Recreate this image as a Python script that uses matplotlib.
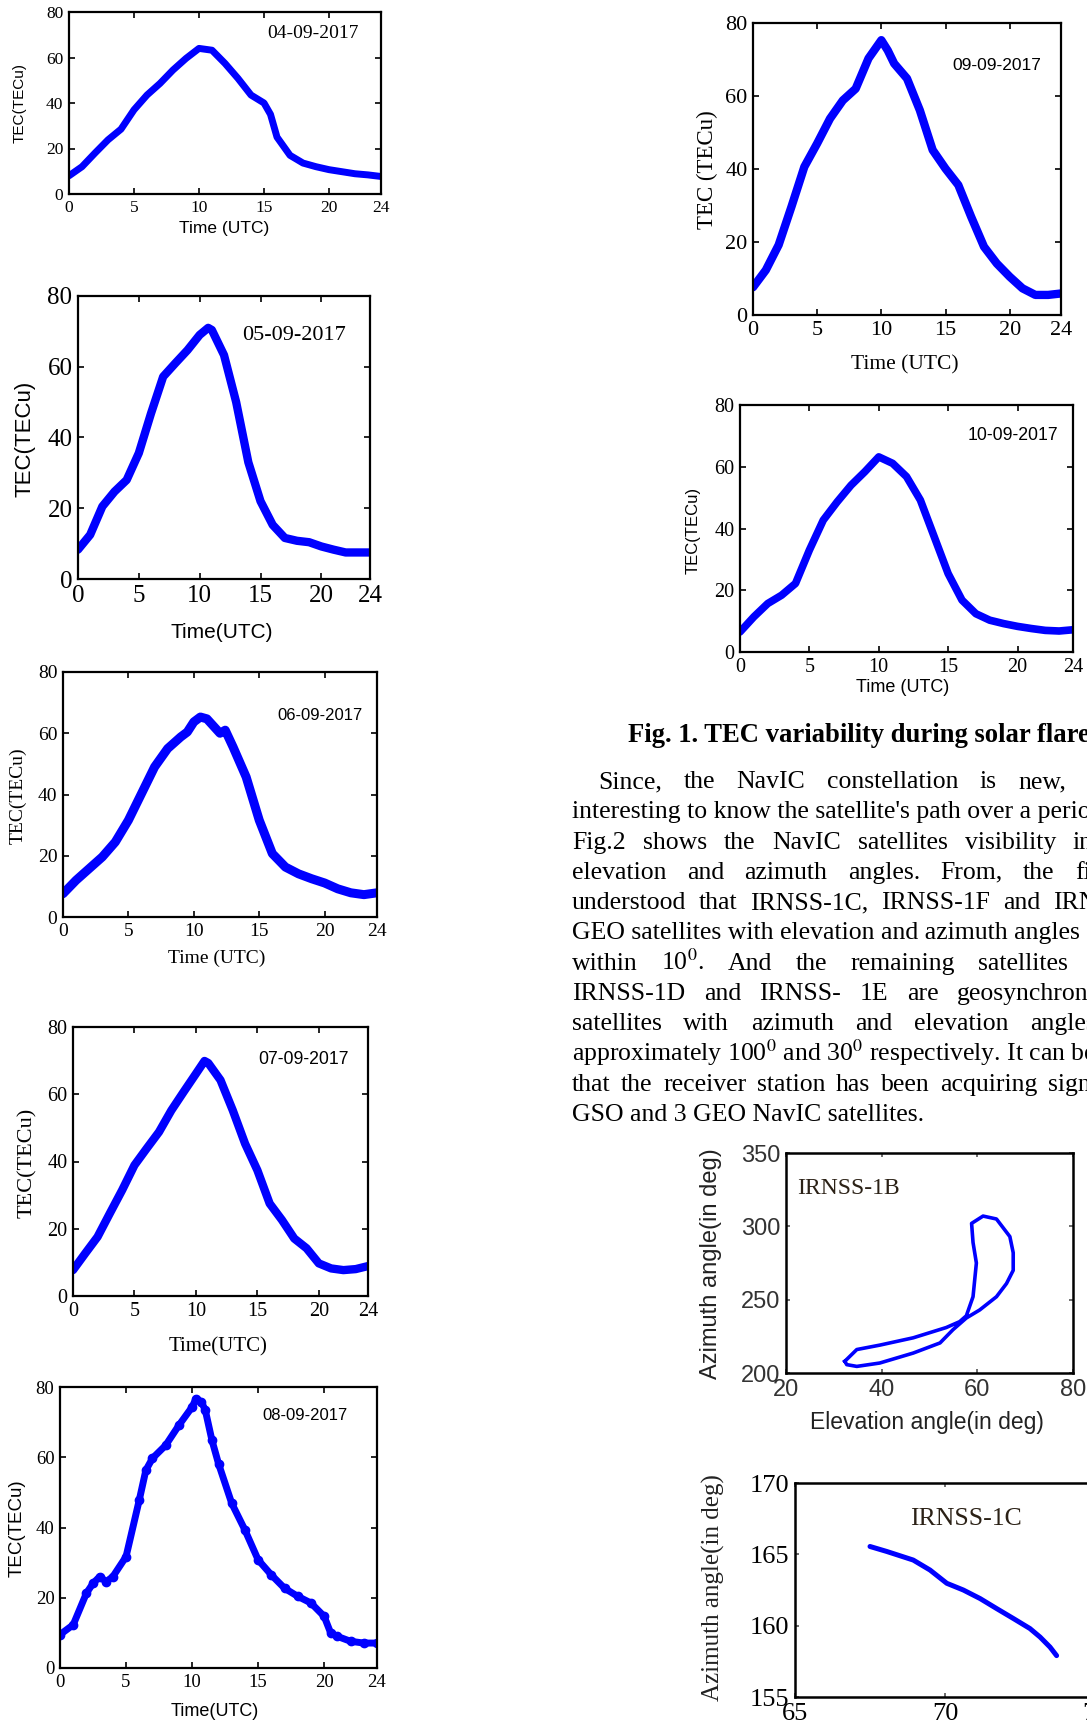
import matplotlib.pyplot as plt
import numpy as np

plt.rcParams['mathtext.fontset'] = 'stix'

SERIF = 'Liberation Serif'
SANS = 'Liberation Sans'
W, H = 1087, 1725

# TEC curves (hour of day, TECu)
hours_0409 = [0, 1, 2, 3, 4, 5, 6, 7, 8, 9, 10, 11, 12, 13, 14, 15, 15.5, 16, 17, 18, 19, 20, 21, 22, 23, 24]
tec_0409 = [8, 12, 18, 23.8, 28.5, 37, 43.5, 48.6, 54.5, 59.6, 64, 63.2, 57.4, 50.8, 43.5, 40, 35, 25, 17, 13.6, 12, 10.7, 9.8, 8.9, 8.4, 7.7]

hours_0509 = [0, 1, 2, 3, 4, 5, 6, 7, 8, 9, 10, 10.7, 11, 12, 13, 14, 15, 16, 17, 18, 19, 20, 21, 22, 23, 24]
tec_0509 = [8.3, 12.5, 20.5, 24.7, 28, 35.6, 46.8, 57.2, 61, 64.7, 69, 71, 70.4, 63.3, 50, 33, 22, 15.3, 11.6, 10.8, 10.4, 9.2, 8.3, 7.5, 7.5, 7.5]

hours_0609 = [0, 1, 2, 3, 4, 5, 6, 7, 8, 9, 9.5, 10, 10.5, 11, 12, 12.4, 13, 14, 15, 16, 17, 18, 19, 20, 21, 22, 23, 24]
tec_0609 = [7.6, 12, 15.8, 19.6, 24.5, 31.6, 40.3, 49, 55, 58.8, 60.4, 63.7, 65.3, 64.7, 60, 61, 55.5, 45.7, 31.6, 20.7, 16.3, 14.1, 12.5, 11.1, 9.2, 7.9, 7.3, 7.9]

hours_0709 = [0, 1, 2, 3, 4, 5, 6, 7, 8, 9, 10, 10.7, 11, 12, 13, 14, 15, 16, 17, 18, 19, 20, 21, 22, 23, 24]
tec_0709 = [7.7, 12.7, 17.6, 24.6, 31.5, 38.9, 43.9, 48.8, 55.2, 60.7, 66.1, 69.9, 69.3, 64.2, 55.2, 45.3, 37.4, 27.5, 22.6, 17.1, 14.2, 9.7, 8.2, 7.7, 8, 8.9]

hours_0809 = [0, 1, 2, 2.5, 3, 3.5, 4, 5, 6, 6.5, 7, 8, 9, 10, 10.3, 10.7, 11, 11.5, 12, 13, 14, 15, 16, 17, 18, 19, 20, 20.5, 21, 22, 23, 24]
tec_0809 = [9.5, 12.3, 21.3, 24.1, 26, 24.6, 26, 31.7, 47.8, 56.3, 59.7, 63.4, 69.1, 74.3, 76.7, 75.8, 73.4, 64.9, 58.2, 46.9, 39.3, 30.8, 26.5, 22.7, 20.4, 18.5, 14.7, 9.9, 9, 7.6, 7.1, 7.1]

hours_0909 = [0, 1, 2, 3, 4, 5, 6, 7, 8, 9, 10, 10.5, 11, 12, 13, 14, 15, 16, 17, 18, 19, 20, 21, 22, 23, 24]
tec_0909 = [7.6, 12.3, 19.2, 29.7, 40.6, 47, 53.8, 58.8, 62, 70.3, 75.3, 72.5, 68.9, 64.8, 56.1, 45.2, 40.1, 35.6, 26.9, 18.7, 14.1, 10.5, 7.3, 5.5, 5.5, 5.9]

hours_1009 = [0, 1, 2, 3, 4, 5, 6, 7, 8, 9, 10, 11, 12, 13, 14, 15, 16, 17, 18, 19, 20, 21, 22, 23, 24]
tec_1009 = [6.5, 11.4, 15.7, 18.4, 22.2, 33, 42.7, 48.6, 54, 58.4, 63.2, 61.1, 56.8, 49.2, 37.3, 25.4, 16.8, 12.4, 10.3, 9.2, 8.3, 7.6, 7, 6.8, 7.2]

# IRNSS-1B sky track (elevation, azimuth), one closed loop
elev_1b = [32.3, 34.8, 39.6, 46.6, 53.5, 56.3, 57.7, 59.1, 59.8, 59.1, 58.8, 61.2, 64.0, 66.8, 67.5, 67.5,
           66.1, 64.0, 60.5, 57.7, 54.9, 52.2, 46.6, 39.6, 34.8, 32.7, 32.3]
azim_1b = [208, 216, 219, 224, 231, 235, 239, 252, 275, 289, 302, 307, 305, 293, 282, 270,
           261, 252, 243, 237.5, 229.5, 220.5, 213.6, 206.8, 204.5, 205.7, 208]

# IRNSS-1C sky track
elev_1c = [67.5, 68.06, 68.94, 69.5, 70.06, 70.61, 71.17, 71.72, 72.28, 72.83, 73.17, 73.5, 73.72]
azim_1c = [165.55, 165.2, 164.6, 163.9, 162.97, 162.5, 161.9, 161.2, 160.5, 159.8, 159.2, 158.5, 157.9]

tec_xticks = [0, 5, 10, 15, 20, 24]
tec_yticks = [0, 20, 40, 60, 80]


def rect(l, t, r, b):
    return [l / W, 1 - b / H, (r - l) / W, (b - t) / H]


def ftext(x, y, s, **kw):
    fig.text(x / W, 1 - y / H, s, **kw)


def style_axes(ax, tick_font, tick_size, spine_w=1.6):
    for sp in ax.spines.values():
        sp.set_linewidth(spine_w)
    ax.tick_params(direction='in', top=True, right=True, length=4, width=1.2, pad=4)
    for lab in ax.get_xticklabels() + ax.get_yticklabels():
        lab.set_fontfamily(tick_font)
        lab.set_fontsize(tick_size)


fig = plt.figure(figsize=(W / 100, H / 100), dpi=100)

# (hours, tec, axes box l,t,r,b, date, date pos, date font/size, xlabel, xlabel pos, font/size, ylabel, ylabel pos, font/size, tick size, lw, marker)
panels = [
    (hours_0409, tec_0409, (69, 12, 381, 194), '04-09-2017', (267, 33), (SERIF, 14),
     'Time (UTC)', (224, 229), (SANS, 12.5), 'TEC(TECu)', (20, 103), (SANS, 11), 12.5, 5, None),
    (hours_0509, tec_0509, (78, 296, 370, 579), '05-09-2017', (242, 335), (SERIF, 16),
     'Time(UTC)', (222, 632), (SANS, 15), 'TEC(TECu)', (25, 439), (SANS, 16), 18, 6, None),
    (hours_0609, tec_0609, (63, 672, 377, 917), '06-09-2017', (277, 715), (SANS, 12),
     'Time (UTC)', (217, 958), (SERIF, 14), 'TEC(TECu)', (18, 796), (SERIF, 14), 14, 6.5, None),
    (hours_0709, tec_0709, (73, 1027, 368, 1296), '07-09-2017', (258, 1060), (SANS, 12.7),
     'Time(UTC)', (218, 1347), (SERIF, 15), 'TEC(TECu)', (27, 1163), (SERIF, 16), 14.5, 6, None),
    (hours_0809, tec_0809, (60, 1387, 377, 1668), '08-09-2017', (262, 1415), (SANS, 12),
     'Time(UTC)', (215, 1712), (SANS, 13), 'TEC(TECu)', (17, 1528), (SANS, 13.5), 13.5, 5, 'o'),
    (hours_0909, tec_0909, (753, 23, 1061, 315), '09-09-2017', (952, 65), (SANS, 12.5),
     'Time (UTC)', (905, 365), (SERIF, 15.5), 'TEC (TECu)', (707, 170), (SERIF, 16.5), 16, 6, None),
    (hours_1009, tec_1009, (740, 405, 1073, 652), '10-09-2017', (968, 435), (SANS, 12.7),
     'Time (UTC)', (903, 688), (SANS, 13), 'TEC(TECu)', (693, 530), (SANS, 12), 14.5, 5.5, None),
]

for (hrs, tec, box, date, dpos, dfont, xl, xlpos, xlfont, yl, ylpos, ylfont, tsize, lw, mk) in panels:
    ax = fig.add_axes(rect(*box))
    if mk:
        ax.plot(hrs, tec, color='#0000ff', lw=lw, marker=mk, ms=6, solid_capstyle='round',
                solid_joinstyle='round')
    else:
        ax.plot(hrs, tec, color='#0000ff', lw=lw, solid_capstyle='round', solid_joinstyle='round')
    ax.set_xlim(0, 24)
    ax.set_ylim(0, 80)
    ax.set_xticks(tec_xticks)
    ax.set_yticks(tec_yticks)
    style_axes(ax, SERIF, tsize)
    ftext(dpos[0], dpos[1], date, family=dfont[0], fontsize=dfont[1], ha='left', va='center')
    ftext(xlpos[0], xlpos[1], xl, family=xlfont[0], fontsize=xlfont[1], ha='center', va='center')
    ftext(ylpos[0], ylpos[1], yl, family=ylfont[0], fontsize=ylfont[1], ha='center', va='center',
          rotation=90)

# IRNSS-1B
ax = fig.add_axes(rect(786, 1153, 1073, 1373))
ax.plot(elev_1b, azim_1b, color='#0000ff', lw=2.6, solid_joinstyle='round')
ax.set_xlim(20, 80)
ax.set_ylim(200, 350)
ax.set_xticks([20, 40, 60, 80])
ax.set_yticks([200, 250, 300, 350])
style_axes(ax, SANS, 17, spine_w=1.8)
ax.tick_params(length=3, color='#555555', labelcolor='#333333')
ax.text(0.04, 0.84, 'IRNSS-1B', transform=ax.transAxes, family=SERIF, fontsize=17,
        color='#2b2116', ha='left', va='center')
ftext(927, 1423, 'Elevation angle(in deg)', family=SANS, fontsize=16.5, ha='center', va='center',
      color='#222222')
ftext(711, 1264, 'Azimuth angle(in deg)', family=SANS, fontsize=17, ha='center', va='center',
      rotation=90, color='#222222')

# IRNSS-1C (axes runs past the right edge of the page crop)
ax = fig.add_axes(rect(795, 1483, 1095, 1697))
ax.plot(elev_1c, azim_1c, color='#0000ff', lw=3.6, solid_capstyle='round')
ax.set_xlim(65, 75)
ax.set_ylim(155, 170)
ax.set_xticks([65, 70, 75])
ax.set_yticks([155, 160, 165, 170])
style_axes(ax, SERIF, 19, spine_w=1.8)
ax.tick_params(length=3, color='#555555')
ax.text(0.383, 0.83, 'IRNSS-1C', transform=ax.transAxes, family=SERIF, fontsize=18.5,
        color='#2b2116', ha='left', va='center')
ftext(713, 1588, 'Azimuth angle(in deg)', family=SERIF, fontsize=18, ha='center', va='center',
      rotation=90, color='#222222')

# page text on the right, clipped at the crop edge
tax = fig.add_axes([0, 0, 1, 1])
tax.set_xlim(0, W)
tax.set_ylim(H, 0)
tax.axis('off')

tax.text(628, 742, 'Fig. 1. TEC variability during solar flares', family=SERIF, fontsize=19.2,
         fontweight='bold', ha='left', va='baseline', clip_on=True)

# paragraph lines: (first word x, words, x where the last visible word starts or None for natural spacing)
body_lines = [
    (598, ['Since,', 'the', 'NavIC', 'constellation', 'is', 'new,'], 1018),
    (572, ['interesting', 'to', 'know', 'the', "satellite's", 'path', 'over', 'a', 'period'], None),
    (572, ['Fig.2', 'shows', 'the', 'NavIC', 'satellites', 'visibility', 'in'], 1073),
    (572, ['elevation', 'and', 'azimuth', 'angles.', 'From,', 'the', 'figure'], 1075),
    (572, ['understood', 'that', 'IRNSS-1C,', 'IRNSS-1F', 'and', 'IRNSS-1G'], 1053),
    (572, ['GEO', 'satellites', 'with', 'elevation', 'and', 'azimuth', 'angles'], None),
    (572, ['within', '10$^0$.', 'And', 'the', 'remaining', 'satellites'], 978),
    (572, ['IRNSS-1D', 'and', 'IRNSS-', '1E', 'are', 'geosynchronous'], 957),
    (572, ['satellites', 'with', 'azimuth', 'and', 'elevation', 'angles'], 1030),
    (572, ['approximately', '100$^0$', 'and', '30$^0$', 'respectively.', 'It', 'can', 'be'], None),
    (572, ['that', 'the', 'receiver', 'station', 'has', 'been', 'acquiring', 'signals'], 1048),
    (572, ['GSO', 'and', '3', 'GEO', 'NavIC', 'satellites.'], None),
]
BODY_SIZE = 18.5
renderer = fig.canvas.get_renderer()
for i, (x0, words, x_last) in enumerate(body_lines):
    y = 788 + 30.3 * i
    if x_last is None:
        tax.text(x0, y, ' '.join(words), family=SERIF, fontsize=BODY_SIZE, ha='left', va='baseline',
                 clip_on=True)
        continue
    arts = [tax.text(0, y, w, family=SERIF, fontsize=BODY_SIZE, ha='left', va='baseline', clip_on=True)
            for w in words]
    widths = [a.get_window_extent(renderer).width for a in arts[:-1]]
    gap = (x_last - x0 - sum(widths)) / (len(words) - 1)
    x = x0
    for a, wd in zip(arts, widths + [0]):
        a.set_x(x)
        x += wd + gap

fig.savefig('out.png', dpi=100)
